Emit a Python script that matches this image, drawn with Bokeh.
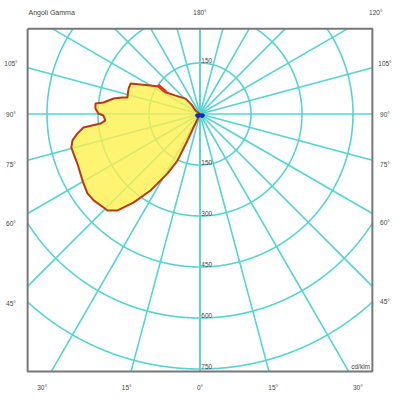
import numpy as np
from bokeh.plotting import figure
from bokeh.models import Range1d
from bokeh.core.properties import value
from bokeh.embed import file_html
from bokeh.resources import INLINE

# ---- data (gamma in degrees, intensity in cd/klm) ----
gamma_c0 = [25.7, 25.3, 25.8, 28.6, 32.9, 36.9, 40.5, 43.8, 45.9, 50.9, 54.8, 59.2,
            63.5, 68.0, 72.7, 75.4, 78.3, 81.0, 83.4, 84.5, 86.1, 89.1, 90.3, 93.0,
            95.7, 96.8, 100.2, 102.0, 102.8, 109.6, 113.7, 116.4, 120.0, 123.5,
            122.7, 127.0, 136.9, 138.2, 127.9]
intensity_c0 = [44, 86, 152, 199, 268, 326, 373, 393, 395, 403, 405, 399,
                393, 389, 390, 391, 383, 365, 345, 294, 279, 284, 299, 308,
                309, 286, 258, 233, 219, 223, 223, 195, 168, 146,
                117, 90, 62, 37, 17]
gamma_c90 = [-90, -75, -60, -45, -30, -15, 0, 15, 30, 45, 60, 75, 90]
intensity_c90 = [11, 13, 14, 13, 11, 9, 8, 9, 11, 13, 14, 13, 11]
gamma_peak = [124.5, 123.5, 122.7]
intensity_peak = [150, 133, 117]

ring_values = [150, 300, 450, 600, 750]
ring_labels = ["150", "150", "300", "450", "600", "750"]
ring_label_pos = [150, -150, -300, -450, -600, -750]
grid_gammas = list(range(0, 181, 15))

side_label_angles = [105, 90, 75, 60, 45]
side_labels = ["105°", "90°", "75°", "60°", "45°"]
bottom_label_angles = [-30, -15, 0, 15, 30]
bottom_labels = ["30°", "15°", "0°", "15°", "30°"]
top_label_angles = [180, 120]
top_labels = ["180°", "120°"]
title_label = "Angoli Gamma"
unit_label = "cd/klm"

# ---- layout ----
K = 150 / 51.0           # cd/klm per pixel
CX, CY = 199.5, 113.5    # pole position in pixels
XB, YT, YB = 507, 251, -757
W = H = 392

p = figure(width=W, height=H, output_backend="svg", toolbar_location=None,
           x_range=Range1d(-CX * K, (W - CX) * K), y_range=Range1d(-(H - CY) * K, CY * K),
           min_border=0, outline_line_color=None)
p.axis.visible = False
p.xgrid.visible = False
p.ygrid.visible = False

GRID = "#55d3d3"
# rings clipped to the box
th = np.linspace(0, 2 * np.pi, 4000)
for R in ring_values:
    x = R * np.cos(th)
    y = R * np.sin(th)
    out = (x < -XB) | (x > XB) | (y > YT) | (y < YB)
    x = np.where(out, np.nan, x)
    y = np.where(out, np.nan, y)
    p.line(x, y, line_color=GRID, line_width=1.6)

# radial lines
def edge_t(dx, dy):
    ts = []
    if dx > 1e-9: ts.append(XB / dx)
    if dx < -1e-9: ts.append(-XB / dx)
    if dy > 1e-9: ts.append(YT / dy)
    if dy < -1e-9: ts.append(YB / dy)
    return min(ts)

for g in grid_gammas:
    for s in (-1, 1):
        dx = s * np.sin(np.radians(g))
        dy = -np.cos(np.radians(g))
        t = edge_t(dx, dy)
        p.line([0, t * dx], [0, t * dy], line_color=GRID, line_width=1.6)

# C0-C180 curve (left side)
gr = np.radians(gamma_c0)
ic = np.array(intensity_c0, dtype=float)
cx = np.concatenate([[0], -ic * np.sin(gr), [0]])
cy = np.concatenate([[0], -ic * np.cos(gr), [0]])
p.patch(cx, cy, fill_color="#fff04a", fill_alpha=0.78, line_color=None)
p.line(cx, cy, line_color="#b83a14", line_width=2)

# peak segment
gp = np.radians(gamma_peak)
ip = np.array(intensity_peak, dtype=float)
p.line(-ip * np.sin(gp), -ip * np.cos(gp), line_color="#e8321e", line_width=3.5)

# C90-C270 curve
g9 = np.radians(gamma_c90)
i9 = np.array(intensity_c90, dtype=float)
bx = np.concatenate([[0], i9 * np.sin(g9), [0]])
by = np.concatenate([[0], -i9 * np.cos(g9), [0]])
p.patch(bx, by, fill_color="#1530c8", line_color="#0a1a9a", line_width=1)

# frame
p.line([-XB, XB, XB, -XB, -XB], [YT, YT, YB, YB, YT], line_color="#777777", line_width=2)

TXT = "#444444"
FONT = value("Liberation Sans")
# ring labels
p.text(x=[4] * len(ring_labels), y=ring_label_pos, text=ring_labels, text_font=FONT,
       text_font_size="6.5px", text_color=TXT, text_baseline="bottom", text_align="left")

# side labels
LX = (CX - 10.5) * K
RX = (384.5 - CX) * K
sx, sy, st = [], [], []
for a, lab in zip(side_label_angles, side_labels):
    r = np.radians(a)
    cot = np.cos(r) / np.sin(r)
    sx += [-LX, RX]
    sy += [-LX * cot, -(387 - CX) * K * cot]
    st += [lab, lab]
# bottom labels
BY = -(387 - CY) * K
for a, lab in zip(bottom_label_angles, bottom_labels):
    r = np.radians(a)
    sx.append(-BY * np.tan(r))
    sy.append(BY)
    st.append(lab)
# top labels
TY = (CY - 12) * K
for a, lab in zip(top_label_angles, top_labels):
    r = np.radians(a)
    sx.append(0 if a == 180 else TY * np.sin(r) / -np.cos(r))
    sy.append(TY)
    st.append(lab)
p.text(x=sx, y=sy, text=st, text_font=FONT, text_font_size="6.5px", text_color=TXT,
       text_baseline="middle", text_align="center")

p.text(x=[-(CX - 28) * K], y=[TY], text=[title_label], text_font=FONT, text_font_size="7px",
       text_color=TXT, text_baseline="middle", text_align="left")
p.text(x=[(369.5 - CX) * K], y=[-(366 - CY) * K], text=[unit_label], text_font=FONT,
       text_font_size="6.5px", text_color=TXT, text_baseline="middle", text_align="right")

open("out.html", "w").write(file_html(p, INLINE))
